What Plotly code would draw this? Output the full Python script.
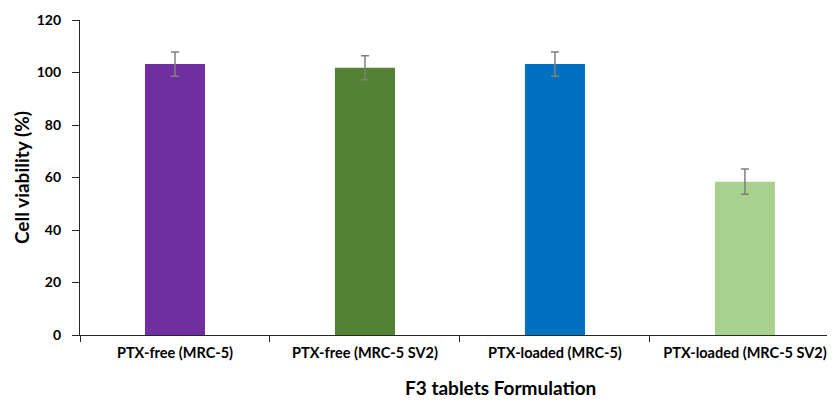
import plotly.graph_objects as go

categories = ["PTX-free (MRC-5)", "PTX-free (MRC-5 SV2)", "PTX-loaded (MRC-5)", "PTX-loaded (MRC-5 SV2)"]
viability = [103.2, 101.8, 103.2, 58.4]
errors = [4.6, 4.6, 4.6, 4.8]
colors = ["#7030A0", "#548235", "#0070C0", "#A9D18E"]
y_ticks = [0, 20, 40, 60, 80, 100, 120]

FONT = "Lato"

fig = go.Figure()
fig.add_trace(go.Bar(
    x=categories, y=viability,
    marker=dict(color=colors, line=dict(width=0)),
    error_y=dict(type="data", array=errors, visible=True, color="#7F7F7F", thickness=1.5, width=4),
    showlegend=False,
))

fig.update_layout(
    width=827, height=394,
    margin=dict(l=72, r=0, t=12, b=67),
    paper_bgcolor="white", plot_bgcolor="white",
    bargap=0.684,
    font=dict(family=FONT, color="#000000"),
    xaxis=dict(
        type="category",
        range=[-0.5, 3.474],
        showline=True, linecolor="#262626", linewidth=1.2,
        ticks="outside", tickson="boundaries", ticklen=6, tickcolor="#262626",
        tickfont=dict(family=FONT, size=14.5, color="#000000", weight="bold"),
        ticklabelstandoff=4,
        showgrid=False, zeroline=False,
    ),
    yaxis=dict(
        range=[0, 120],
        tickvals=y_ticks,
        showline=True, linecolor="#262626", linewidth=1.2,
        ticks="outside", ticklen=7, tickcolor="#262626",
        tickfont=dict(family=FONT, size=14, color="#000000", weight="bold"),
        ticklabelstandoff=8,
        showgrid=False, zeroline=False,
        title=dict(text="Cell viability (%)", font=dict(family=FONT, size=19, color="#000000", weight="bold"), standoff=2),
    ),
    annotations=[dict(
        text="F3 tablets Formulation", xref="paper", yref="paper",
        x=0.557, y=-0.168, xanchor="center", yanchor="middle", showarrow=False,
        font=dict(family=FONT, size=19, color="#000000", weight="bold"),
    )],
)

fig.write_html("out.html")
